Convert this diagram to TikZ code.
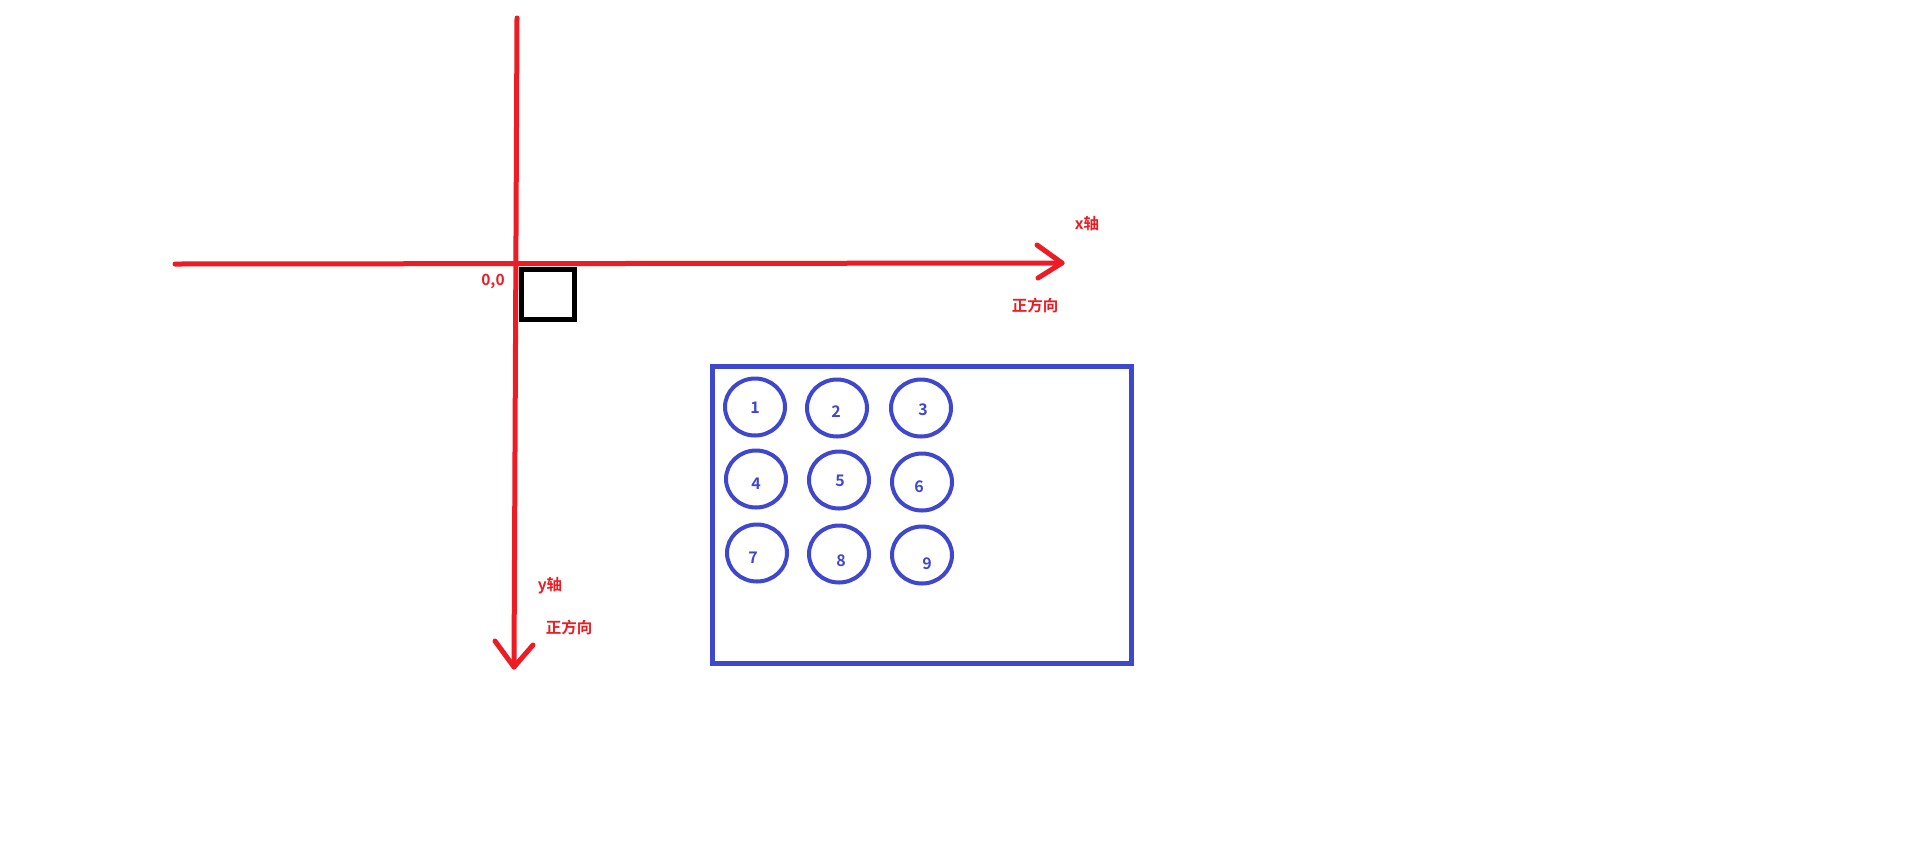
\documentclass[tikz,border=0pt]{standalone}
\usepackage{fontspec}
\newfontfamily\cjkfont{Noto Sans CJK SC}[BoldFont={Noto Sans CJK SC Bold}]
\usetikzlibrary{shapes.geometric}
\definecolor{pred}{RGB}{237,28,36}
\definecolor{pblue}{RGB}{63,72,204}
\tikzset{
  axis/.style={draw=pred,line width=5pt,line cap=round,line join=round},
  lbl/.style={text=pred,font=\cjkfont\bfseries\fontsize{15.5}{18}\selectfont,inner sep=0pt},
  cell/.style={draw=pblue,line width=4pt,ellipse,minimum width=60pt,minimum height=57pt,inner sep=0pt},
  num/.style={text=pblue,font=\cjkfont\bfseries\fontsize{16}{18}\selectfont,inner sep=0pt}
}
\begin{document}
\begin{tikzpicture}[x=1pt,y=-1pt]
\useasboundingbox[fill=white] (0,0) rectangle (1908,847);
% axes
\coordinate (xs) at (175,264);
\coordinate (xe) at (1062,263);
\coordinate (xa1) at (1037,245);
\coordinate (xa2) at (1038,278);
\coordinate (ys) at (517,18);
\coordinate (ye) at (514,667);
\coordinate (ya1) at (495,641);
\coordinate (ya2) at (533,645);
\draw[axis] (xs) -- (xe);
\draw[axis] (xa1) -- (xe) -- (xa2);
\draw[axis] (ys) -- (ye);
\draw[axis] (ya1) -- (ye) -- (ya2);
% origin square
\node[draw=black,line width=5pt,minimum width=53pt,minimum height=50pt,inner sep=0pt] (sq) at (548,294.5) {};
% labels
\node[lbl] (o) at (493,281) {0,0};
\node[lbl] (xl) at (1087,224) {x轴};
\node[lbl] (xd) at (1035,306) {正方向};
\node[lbl] (yl) at (550,586) {y轴};
\node[lbl] (yd) at (569,628) {正方向};
% blue box
\node[draw=pblue,line width=5pt,minimum width=419pt,minimum height=297pt,inner sep=0pt] (box) at (921.5,514.5) {};
% circles
\node[cell] (c1) at (755,407) {};
\node[cell] (c2) at (837,408) {};
\node[cell] (c3) at (921,408) {};
\node[cell] (c4) at (756,479) {};
\node[cell] (c5) at (839,480) {};
\node[cell] (c6) at (922,482) {};
\node[cell] (c7) at (757,553) {};
\node[cell] (c8) at (839,554) {};
\node[cell] (c9) at (922,555) {};
\node[num] at (755,408) {1};
\node[num] at (836,412) {2};
\node[num] at (923,410) {3};
\node[num] at (756,484) {4};
\node[num] at (840,481) {5};
\node[num] at (919,487) {6};
\node[num] at (753,558) {7};
\node[num] at (841,561) {8};
\node[num] at (927,564) {9};
\end{tikzpicture}
\end{document}
